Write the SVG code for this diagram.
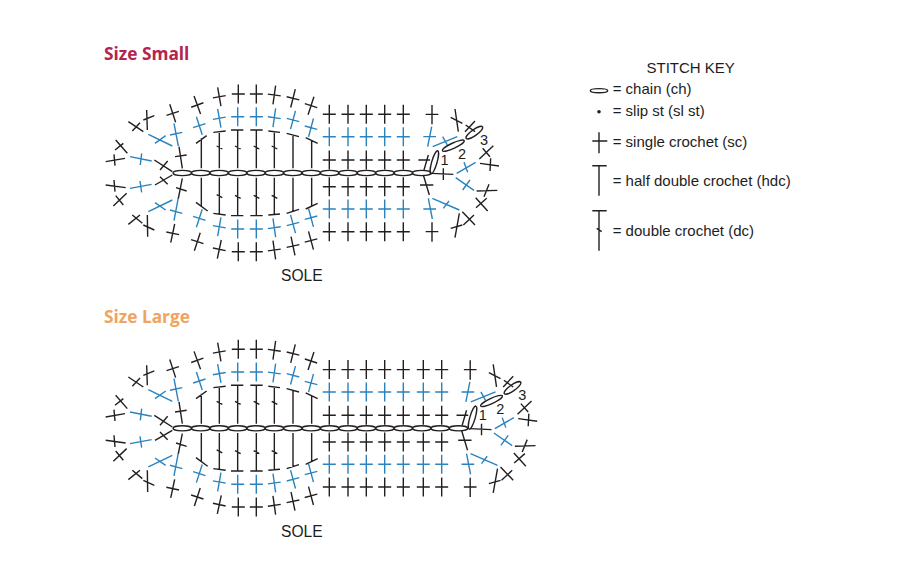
<svg xmlns="http://www.w3.org/2000/svg" width="907" height="583" viewBox="0 0 907 583">
<style>
.t{font-family:"Liberation Sans",Arial,sans-serif;font-size:15px;fill:#1d1d1d}
.s{font-size:15.6px}
.n{font-family:"Liberation Sans",Arial,sans-serif;font-size:14.5px;fill:#1d1d1d;text-anchor:middle}
.h{font-family:"Open Sans","Noto Sans",sans-serif;font-size:17.3px;font-weight:700}
g,path,ellipse,use{fill:none}
.k{stroke:#231f20;stroke-width:1.4}
.b{stroke:#2b83bd;stroke-width:1.4}
.z{stroke-width:4.2}
</style>
<defs>
<path id="sc" d="M0-9.5V9.5M-6.5 0H6.5"/>
<ellipse id="ch" rx="9.3" ry="2.6"/>
<g id="col">
<use href="#sc" y="114.3" class="k"/><use href="#sc" y="136.7" class="b"/><use href="#sc" y="160" class="k"/><use href="#sc" y="186.7" class="k"/><use href="#sc" y="209" class="b"/><use href="#sc" y="231.7" class="k"/>
</g>
<g id="heel">
<g class="k" id="heel-chain">
<use href="#ch" x="182.3" y="173"/><use href="#ch" x="200.7" y="173"/><use href="#ch" x="219.1" y="173"/><use href="#ch" x="237.6" y="173"/><use href="#ch" x="256" y="173"/><use href="#ch" x="274.4" y="173"/><use href="#ch" x="292.8" y="173"/><use href="#ch" x="311.2" y="173"/>
</g>
<g class="k" id="heel-outer">
<use href="#sc" transform="translate(238.3 94)"/><use href="#sc" transform="translate(256.3 94)"/><use href="#sc" transform="translate(274.3 95) rotate(8)"/><use href="#sc" transform="translate(293 98.3) rotate(14)"/><use href="#sc" transform="translate(311 105.7) rotate(18)"/><use href="#sc" transform="translate(219.3 96.7) rotate(-10)"/><use href="#sc" transform="translate(197.3 105) rotate(-20)"/><use href="#sc" transform="translate(172.7 113.3) rotate(-18)"/>
<use href="#sc" transform="translate(172.7 233.3) rotate(12)"/><use href="#sc" transform="translate(197.3 241.7) rotate(18)"/><use href="#sc" transform="translate(219.3 249.3) rotate(12)"/><use href="#sc" transform="translate(238.3 251.7)"/><use href="#sc" transform="translate(256.3 251.7)"/><use href="#sc" transform="translate(274.3 250) rotate(-8)"/><use href="#sc" transform="translate(293 246) rotate(-12)"/><use href="#sc" transform="translate(311 240.5) rotate(-15)"/>
</g>
<g class="b" id="heel-mid">
<use href="#sc" transform="translate(237.7 116.7)"/><use href="#sc" transform="translate(256.3 116.7)"/><use href="#sc" transform="translate(274.3 117.7) rotate(8)"/><use href="#sc" transform="translate(293 120) rotate(15)"/><use href="#sc" transform="translate(311 127.7) rotate(15)"/><use href="#sc" transform="translate(219.3 118.3) rotate(-10)"/><use href="#sc" transform="translate(199.3 125.7) rotate(-18)"/>
<use href="#sc" transform="translate(199.3 218.3) rotate(18)"/><use href="#sc" transform="translate(219.3 226.7) rotate(10)"/><use href="#sc" transform="translate(237.7 229)"/><use href="#sc" transform="translate(256.3 229)"/><use href="#sc" transform="translate(274.3 227.7) rotate(-8)"/><use href="#sc" transform="translate(293 224) rotate(-15)"/><use href="#sc" transform="translate(311 217.7) rotate(-15)"/>
</g>
<g transform="translate(95 75) scale(.33333)">
<path class="b z" d="M237 145L250 213M225 180L262 172M160 178L232 213M180 205L212 182M105 245L170 258M140 235L136 270M105 340L170 328M135 318L140 352M160 410L232 375M180 383L212 405M250 368L237 437M225 405L262 415"/>
<path class="k z" d="M155 105L157 165M145 135L178 122M100 140L145 170M112 168L135 143M62 195L97 235M60 225L85 205M32 260L90 250M57 238L60 272M32 330L92 338M57 315L60 350M55 393L95 355M62 362L85 390M100 448L135 420M112 420L142 445M157 420L158 485M145 450L178 465"/>
<path class="k z" d="M178 255L232 290M195 285L218 258M180 330L232 300M195 305L218 328M252 215L262 280M240 245L275 240M262 310L250 370M243 338L275 348"/>
<path class="k z" d="M319 190V280M303 205L335 182M373 168V280M355 172L392 168M428 165V280M408 165H445M484 165V280M466 165H503M538 168V280M520 168L555 172M594 180V280M575 175L612 185M650 197V280M632 188L668 205M365 213L382 222M420 213L437 222M476 213L493 222M530 213L547 222"/>
<path class="k z" d="M319 308V392M303 382L338 408M373 308V418M355 415L392 420M428 308V422M408 422H445M484 308V422M466 422H503M538 308V419M520 420L555 417M594 308V410M575 415L612 403M650 308V392M632 402L668 385M365 359L382 368M420 361L437 370M476 361L493 370M530 361L547 370"/>
</g>
</g>
<g id="cap">
<g transform="translate(300 85) scale(.33333)">
<path class="b z" d="M395 125L383 185M370 155H408M398 185L472 155M428 155L442 180M470 265L527 232M492 232L503 262M467 278L522 316M510 285L488 315M385 340L397 402M370 372H408M397 340L478 375M430 370L447 348"/>
<path class="k z" d="M396 60V118M377 88H415M385 210L372 255M355 225H390M370 270L388 330M360 300H400M395 265L460 268M430 250V285M465 72L475 140M452 97L487 115M497 120L525 140M495 140L525 108M538 222L580 182M548 190L570 215M540 235L597 243M572 220L570 258M530 318L592 316M567 298L552 335M527 338L563 378M528 368L560 340M487 380L525 420M490 420L522 390M478 385L465 458M452 430L487 420M396 412V470M377 440H415"/>
<ellipse class="k z" transform="translate(403 232) rotate(-74)" rx="36" ry="8"/>
<ellipse class="k z" transform="translate(460 182) rotate(-25)" rx="36" ry="8"/>
<ellipse class="k z" transform="translate(523 143) rotate(-35)" rx="30" ry="9"/>
</g>
<text class="n" x="444.5" y="165">1</text><text class="n" x="462" y="158.5">2</text><text class="n" x="484" y="144.5">3</text>
</g>
</defs>

<text class="h" x="104" y="60" fill="#b5234f">Size Small</text>
<g id="sole-small">
<use href="#heel"/>
<g class="k"><use href="#ch" x="329.6" y="173"/><use href="#ch" x="348" y="173"/><use href="#ch" x="366.4" y="173"/><use href="#ch" x="384.9" y="173"/><use href="#ch" x="403.3" y="173"/><use href="#ch" x="421.7" y="173"/></g>
<use href="#col" x="329.3"/><use href="#col" x="348"/><use href="#col" x="366.3"/><use href="#col" x="384.7"/><use href="#col" x="403.3"/>
<use href="#cap"/>
</g>
<text class="t s" x="281" y="281">SOLE</text>

<text class="h" x="104" y="323" fill="#f0a45f">Size Large</text>
<g id="sole-large" transform="translate(0 255.3)">
<use href="#heel"/>
<g class="k"><use href="#ch" x="329.6" y="173"/><use href="#ch" x="348" y="173"/><use href="#ch" x="366.4" y="173"/><use href="#ch" x="384.9" y="173"/><use href="#ch" x="403.3" y="173"/><use href="#ch" x="421.7" y="173"/><use href="#ch" x="440.1" y="173"/><use href="#ch" x="458.5" y="173"/></g>
<use href="#col" x="329.3"/><use href="#col" x="348"/><use href="#col" x="366.3"/><use href="#col" x="384.7"/><use href="#col" x="403.3"/><use href="#col" x="423.3"/><use href="#col" x="441.7"/>
<use href="#cap" x="38.2"/>
</g>
<text class="t s" x="281" y="537">SOLE</text>

<g id="stitch-key">
<text class="t" x="646.5" y="73">STITCH KEY</text>
<g id="key-chain"><ellipse class="k" cx="599" cy="90.7" rx="8.7" ry="2.1"/><text class="t" x="612.7" y="94">= chain (ch)</text></g>
<g id="key-slip"><circle cx="599" cy="111.7" r="1.8" fill="#231f20"/><text class="t" x="612.7" y="115.7">= slip st (sl st)</text></g>
<g id="key-sc"><path class="k" d="M599 132.3V153.3M592.3 141H607.3"/><text class="t" x="612.7" y="147.4">= single crochet (sc)</text></g>
<g id="key-hdc"><path class="k" d="M599 165.7V195.7M592.3 165.7H606.7"/><text class="t" x="612.7" y="185.7">= half double crochet (hdc)</text></g>
<g id="key-dc"><path class="k" d="M599 210.7V250.7M592.3 210.7H606.7M596.7 228.3L601.7 231.7"/><text class="t" x="612.7" y="235.7">= double crochet (dc)</text></g>
</g>
</svg>
